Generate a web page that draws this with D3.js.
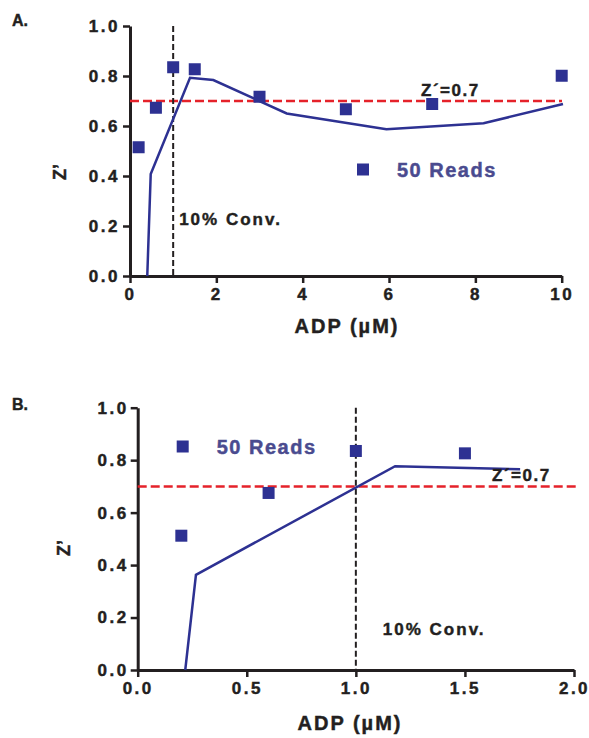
<!DOCTYPE html>
<meta charset="utf-8">
<script src="https://d3js.org/d3.v7.min.js"></script>
<style>
  body { margin: 0; background: #fff; }
  text { font-family: "Liberation Sans", Arial, sans-serif; font-weight: bold; stroke-width: 0.45px; }
</style>
<div id="my_dataviz"></div>
<script>

// ---- data ----
// panel A
var adpA = [0.2, 0.6, 1, 1.5, 3, 5, 7, 10];
var zA   = [0.515, 0.673, 0.835, 0.827, 0.717, 0.667, 0.688, 0.801];
var fitXA = [0.40, 0.48, 1.39, 1.93, 3.63, 5.94, 8.19, 10.03];
var fitYA = [0, 0.408, 0.793, 0.784, 0.650, 0.587, 0.611, 0.688];
var xTicksA = [0, 2, 4, 6, 8, 10];

// panel B
var adpB = [0.2, 0.6, 1, 1.5];
var zB   = [0.512, 0.675, 0.835, 0.826];
var fitXB = [0.218, 0.267, 1.18, 1.753];
var fitYB = [0, 0.363, 0.777, 0.765];
var xTicksB = [0, 0.5, 1, 1.5, 2];

var yTicks = [0, 0.2, 0.4, 0.6, 0.8, 1.0];
var zCut = 0.7;        // Z' threshold
var conv10 = 1.0;      // 10% conversion, uM ADP

var blue = "#2d3192", legendBlue = "#4a4b8f", red = "#e5222a", ink = "#231f20";

var svg = d3.select("#my_dataviz")
  .append("svg")
    .attr("width", 589)
    .attr("height", 738);

function drawPanel(p) {
  var x = d3.scaleLinear().domain(p.xDomain).range([p.left, p.right]);
  var y = d3.scaleLinear().domain([0, 1]).range([p.bottom, p.top]);
  var g = svg.append("g");

  // panel letter
  g.append("text")
    .attr("x", p.letterX).attr("y", p.letterY)
    .style("font-size", "16px").style("fill", ink).style("stroke", ink)
    .text(p.letter);

  // axes
  var xAxis = g.append("g")
    .attr("transform", "translate(0," + p.bottom + ")")
    .call(d3.axisBottom(x).tickValues(p.xTicks).tickFormat(p.xFormat)
      .tickSize(7).tickSizeOuter(0).tickPadding(5));
  var yAxis = g.append("g")
    .attr("transform", "translate(" + p.left + ",0)")
    .call(d3.axisLeft(y).tickValues(yTicks).tickFormat(d3.format(".1f"))
      .tickSize(7).tickSizeOuter(0).tickPadding(p.yPad));
  [xAxis, yAxis].forEach(function(a) {
    a.select(".domain").attr("stroke", ink).attr("stroke-width", 3);
    a.selectAll(".tick line").attr("stroke", ink).attr("stroke-width", 2.5);
    a.selectAll(".tick text")
      .style("font-size", "17px").style("fill", ink).style("stroke", ink)
      .style("letter-spacing", "2.5px")
      .attr("font-family", null);
  });

  // reference lines
  g.append("line")
    .attr("x1", x(p.xDomain[0])).attr("x2", p.redEnd)
    .attr("y1", y(zCut)).attr("y2", y(zCut))
    .attr("stroke", red).attr("stroke-width", 2.5)
    .attr("stroke-dasharray", "9,4");
  g.append("line")
    .attr("x1", x(conv10)).attr("x2", x(conv10))
    .attr("y1", y(1)).attr("y2", y(0))
    .attr("stroke", ink).attr("stroke-width", 2)
    .attr("stroke-dasharray", "6,3");

  // fitted curve
  var fit = p.fitX.map(function(d, i) { return [d, p.fitY[i]]; });
  g.append("path")
    .datum(fit)
    .attr("fill", "none")
    .attr("stroke", blue)
    .attr("stroke-width", 2.5)
    .attr("d", d3.line()
      .x(function(d) { return x(d[0]); })
      .y(function(d) { return y(d[1]); }));

  // data squares
  var size = 12;
  g.selectAll("sq")
    .data(p.adp)
    .enter()
    .append("rect")
      .attr("x", function(d) { return x(d) - size / 2; })
      .attr("y", function(d, i) { return y(p.z[i]) - size / 2; })
      .attr("width", size)
      .attr("height", size)
      .style("fill", blue);

  // legend
  g.append("rect")
    .attr("x", p.legX - size / 2).attr("y", p.legY - size / 2)
    .attr("width", size).attr("height", size)
    .style("fill", blue);
  g.append("text")
    .attr("x", p.legX + 34).attr("y", p.legY + 7)
    .style("font-size", "20px").style("letter-spacing", "1.5px")
    .style("fill", legendBlue).style("stroke", legendBlue)
    .text("50 Reads");

  // annotations
  g.append("text")
    .attr("x", p.zLabX).attr("y", y(zCut) - 5)
    .style("font-size", "17px").style("letter-spacing", "1.5px")
    .style("fill", ink).style("stroke", ink)
    .text("Z´=0.7");
  g.append("text")
    .attr("x", x(conv10) + p.convDx).attr("y", p.convY)
    .style("font-size", "17px").style("letter-spacing", "2px")
    .style("fill", ink).style("stroke", ink)
    .text("10% Conv.");

  // axis titles
  g.append("text")
    .attr("text-anchor", "middle")
    .attr("x", p.xTitleX).attr("y", p.xTitleY)
    .style("font-size", "20px").style("letter-spacing", "2px")
    .style("fill", ink).style("stroke", ink)
    .text("ADP (µM)");
  g.append("text")
    .attr("text-anchor", "middle")
    .attr("transform", "translate(" + p.yTitleX + "," + p.yTitleY + ") rotate(-90)")
    .style("font-size", "18px")
    .style("fill", ink).style("stroke", ink)
    .text("Z’");
}

drawPanel({
  letter: "A.", letterX: 12, letterY: 26,
  xDomain: [0, 10], xTicks: xTicksA, xFormat: d3.format("d"),
  left: 130, right: 561.7, top: 26, bottom: 276,
  yPad: 3, redEnd: 562,
  adp: adpA, z: zA, fitX: fitXA, fitY: fitYA,
  legX: 363, legY: 169.5,
  zLabX: 421, convDx: 6, convY: 225,
  xTitleX: 347, xTitleY: 333, yTitleX: 66, yTitleY: 172
});

drawPanel({
  letter: "B.", letterX: 12, letterY: 410,
  xDomain: [0, 2], xTicks: xTicksB, xFormat: d3.format(".1f"),
  left: 137.7, right: 574, top: 407.7, bottom: 670,
  yPad: 2, redEnd: 576,
  adp: adpB, z: zB, fitX: fitXB, fitY: fitYB,
  legX: 182.7, legY: 446.5,
  zLabX: 492, convDx: 27, convY: 635,
  xTitleX: 350, xTitleY: 730, yTitleX: 70, yTitleY: 548
});

</script>
